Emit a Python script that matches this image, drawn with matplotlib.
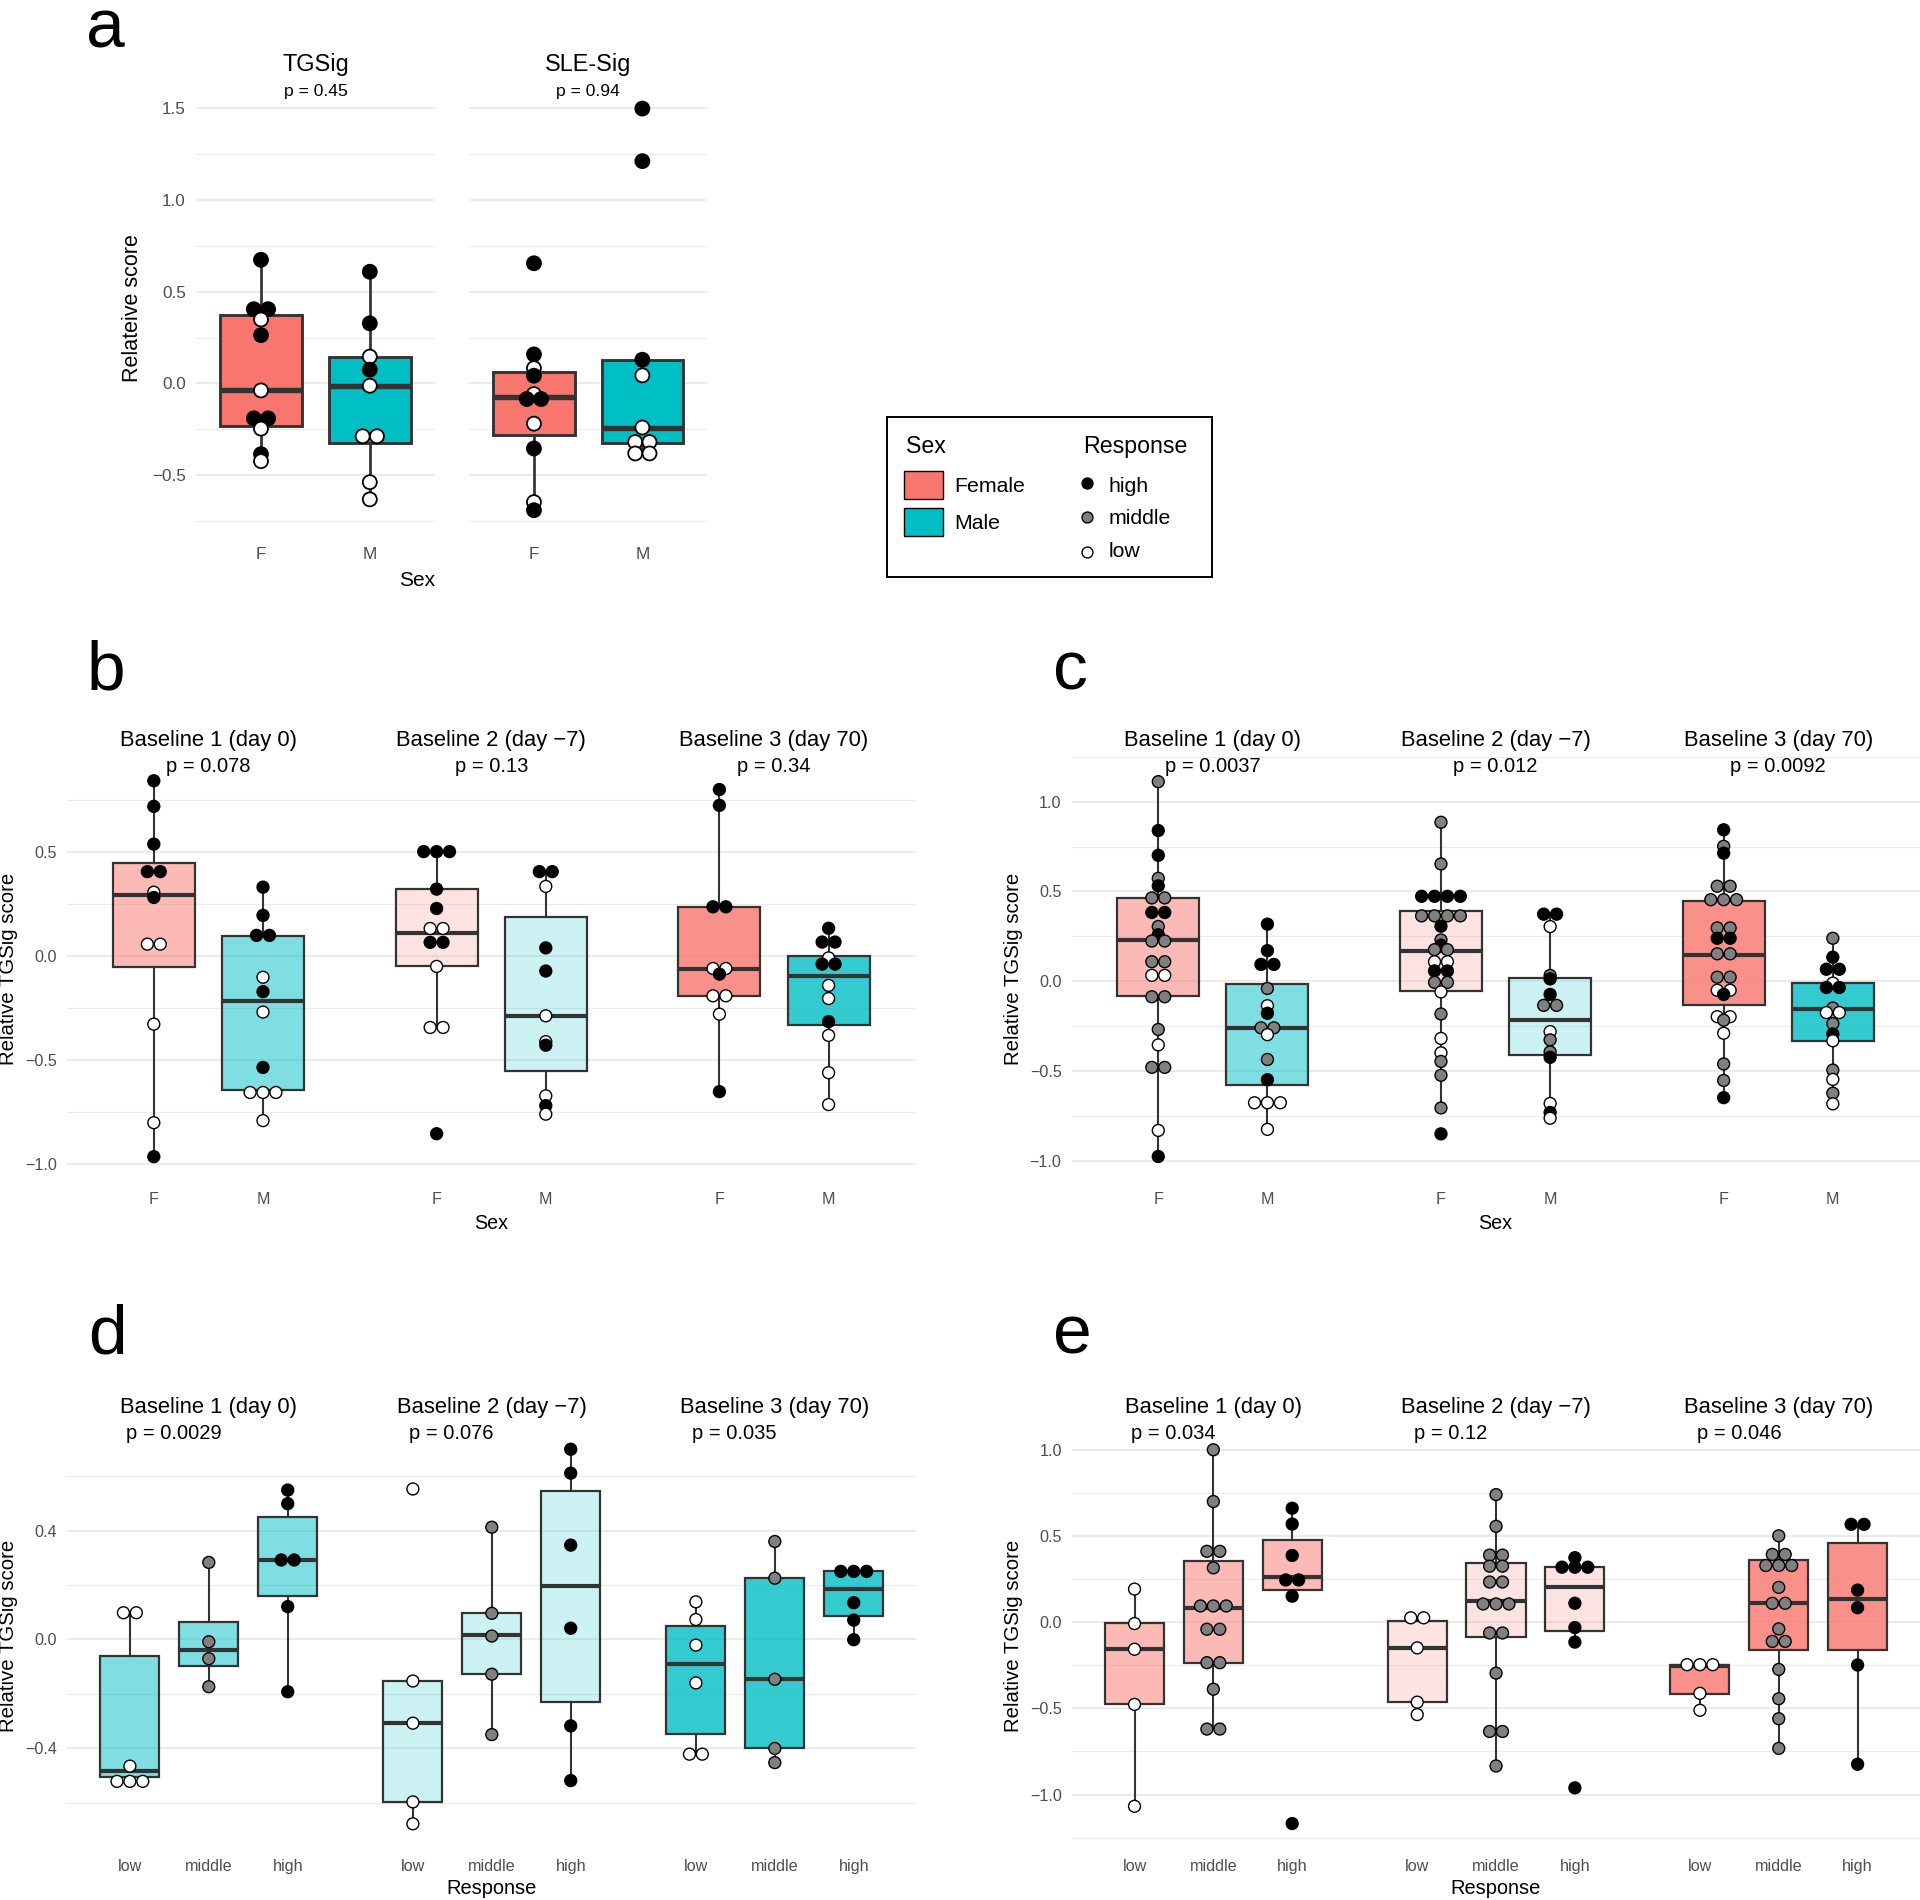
import numpy as np
import matplotlib.pyplot as plt
from matplotlib import transforms
from matplotlib.colors import to_rgba
from matplotlib.patches import Rectangle
from matplotlib.ticker import FuncFormatter

plt.rcParams["font.family"] = ["Liberation Sans", "DejaVu Sans"]

# ------------------------------
# Data
# response codes: h = high, m = middle, l = low
# ------------------------------

# panel a: signature scores by sex
A_FACETS = ["TGSig", "SLE-Sig"]
A_PVALS = ["p = 0.45", "p = 0.94"]
A_CATS = ["F", "M"]
A_TG_F = [0.673, 0.404, 0.404, 0.348, 0.263, -0.038, -0.19, -0.19, -0.246, -0.385, -0.423]
A_TG_F_R = "hhhlhlhhlhl"
A_TG_M = [0.608, 0.327, 0.146, 0.075, -0.0125, -0.2875, -0.2875, -0.5375, -0.631]
A_TG_M_R = "hhlhlllll"
A_SLE_F = [0.654, 0.158, 0.083, 0.042, -0.058, -0.085, -0.085, -0.219, -0.354, -0.646, -0.69]
A_SLE_F_R = "hhlhlhhlhlh"
A_SLE_M = [1.496, 1.21, 0.129, 0.044, -0.24, -0.319, -0.319, -0.381, -0.381]
A_SLE_M_R = "hhhllllll"
A_LO = [-0.423, -0.631, -0.69, -0.381]
A_Q1 = [-0.233, -0.323, -0.283, -0.323]
A_MED = [-0.0375, -0.0125, -0.075, -0.242]
A_Q3 = [0.373, 0.144, 0.0625, 0.127]
A_HI = [0.673, 0.608, 0.158, 0.129]

BASELINES = ["Baseline 1 (day 0)", "Baseline 2 (day \u22127)", "Baseline 3 (day 70)"]

# panel b: TGSig by sex
B_PVALS = ["p = 0.078", "p = 0.13", "p = 0.34"]
B1_F = [0.84, 0.717, 0.536, 0.404, 0.404, 0.305, 0.28, 0.056, 0.056, -0.328, -0.801, -0.964]
B1_F_R = "hhhhhlhllllh"
B1_M = [0.3295, 0.194, 0.098, 0.098, -0.103, -0.172, -0.27, -0.536, -0.656, -0.656, -0.656, -0.791]
B1_M_R = "hhhhlhlhllll"
B2_F = [0.5, 0.5, 0.5, 0.32, 0.227, 0.131, 0.131, 0.0646, 0.0646, -0.051, -0.344, -0.344, -0.854]
B2_F_R = "hhhhhllhhlllh"
B2_M = [0.404, 0.404, 0.333, 0.038, -0.073, -0.288, -0.412, -0.429, -0.672, -0.719, -0.76]
B2_M_R = "hhlhhllhlhl"
B3_F = [0.798, 0.722, 0.235, 0.235, -0.061, -0.061, -0.088, -0.192, -0.192, -0.28, -0.652]
B3_F_R = "hhhhllhlllh"
B3_M = [0.132, 0.066, 0.066, -0.01, -0.04, -0.04, -0.142, -0.205, -0.316, -0.382, -0.561, -0.714]
B3_M_R = "hhhlhhllhlll"
B_LO = [-0.964, -0.791, -0.344, -0.76, -0.652, -0.714]
B_Q1 = [-0.053, -0.642, -0.051, -0.551, -0.192, -0.331]
B_MED = [0.29, -0.2185, 0.109, -0.288, -0.063, -0.099]
B_Q3 = [0.444, 0.093, 0.32, 0.1855, 0.235, -0.002]
B_HI = [0.84, 0.3295, 0.5, 0.404, 0.798, 0.132]

# panel c: TGSig by sex, second cohort
C_PVALS = ["p = 0.0037", "p = 0.012", "p = 0.0092"]
C1_F = [1.111, 0.839, 0.701, 0.573, 0.531, 0.464, 0.464, 0.383, 0.383, 0.305, 0.259, 0.224, 0.224,
        0.109, 0.109, 0.033, 0.033, -0.086, -0.086, -0.268, -0.354, -0.479, -0.479, -0.83, -0.975]
C1_F_R = "mhhmhmmhhmhmmmmllmmmlmmlh"
C1_M = [0.318, 0.1705, 0.094, 0.094, -0.04, -0.136, -0.178, -0.259, -0.259, -0.297, -0.435, -0.548,
        -0.676, -0.676, -0.676, -0.824]
C1_M_R = "hhhhmlhmmlmhllll"
C2_F = [0.885, 0.653, 0.473, 0.473, 0.473, 0.473, 0.364, 0.364, 0.364, 0.364, 0.3065, 0.23, 0.201,
        0.176, 0.176, 0.109, 0.109, 0.0575, 0.0575, -0.006, -0.006, -0.059, -0.182, -0.318, -0.398,
        -0.446, -0.523, -0.705, -0.849]
C2_F_R = "mmhhhhmmmmhmhmmllhhmmlmllmmmh"
C2_M = [0.3736, 0.3736, 0.3046, 0.0326, 0.0134, -0.073, -0.134, -0.134, -0.28, -0.326, -0.393, -0.423,
        -0.68, -0.73, -0.762]
C2_M_R = "hhlmhhmmlmmhlhl"
C3_F = [0.843, 0.751, 0.713, 0.529, 0.529, 0.454, 0.454, 0.454, 0.297, 0.297, 0.2395, 0.2395, 0.153,
        0.153, 0.023, 0.023, -0.05, -0.05, -0.073, -0.197, -0.197, -0.2165, -0.289, -0.46, -0.552, -0.6475]
C3_F_R = "hmhmmmmmmmhhmmmmllhllmlmmh"
C3_M = [0.2395, 0.134, 0.067, 0.067, -0.01, -0.0345, -0.0345, -0.149, -0.174, -0.174, -0.2356, -0.293,
        -0.331, -0.494, -0.546, -0.6226, -0.682]
C3_M_R = "mhhhlhhmllmhlmlml"
C_LO = [-0.975, -0.824, -0.705, -0.762, -0.6475, -0.682]
C_Q1 = [-0.082, -0.575, -0.0536, -0.412, -0.134, -0.335]
C_MED = [0.228, -0.2586, 0.1705, -0.2165, 0.1437, -0.155]
C_Q3 = [0.4636, -0.0153, 0.393, 0.021, 0.448, -0.01]
C_HI = [1.111, 0.318, 0.885, 0.3736, 0.843, 0.2395]

# panel d: TGSig by response, males
RESP_CATS = ["low", "middle", "high"]
D_PVALS = ["p = 0.0029", "p = 0.076", "p = 0.035"]
D1_L = [0.098, 0.098, -0.466, -0.522, -0.522, -0.522]
D1_M = [0.283, -0.0087, -0.071, -0.174]
D1_H = [0.549, 0.499, 0.292, 0.292, 0.1205, -0.1925]
D2_L = [0.553, -0.153, -0.308, -0.5975, -0.678]
D2_M = [0.4124, 0.0957, 0.0124, -0.128, -0.35]
D2_H = [0.699, 0.611, 0.3466, 0.041, -0.318, -0.519]
D3_L = [0.138, 0.073, -0.021, -0.16, -0.422, -0.422]
D3_M = [0.36, 0.225, -0.1466, -0.401, -0.453]
D3_H = [0.25, 0.25, 0.25, 0.135, 0.0708, -0.0012]
D_LO = [-0.522, -0.174, -0.1925, -0.678, -0.35, -0.519, -0.422, -0.453, -0.0012]
D_Q1 = [-0.507, -0.098, 0.16, -0.5975, -0.128, -0.23, -0.3466, -0.401, 0.0857]
D_MED = [-0.4845, -0.0385, 0.292, -0.308, 0.015, 0.1975, -0.092, -0.1466, 0.186]
D_Q3 = [-0.062, 0.063, 0.45, -0.153, 0.0957, 0.5466, 0.0497, 0.225, 0.252]
D_HI = [0.098, 0.283, 0.549, -0.153, 0.4124, 0.699, 0.138, 0.36, 0.25]

# panel e: TGSig by response, females
E_PVALS = ["p = 0.034", "p = 0.12", "p = 0.046"]
E1_L = [0.192, -0.008, -0.157, -0.477, -1.068]
E1_M = [1.0, 0.7, 0.411, 0.411, 0.315, 0.094, 0.094, 0.094, -0.041, -0.041, -0.235, -0.235, -0.389, -0.62, -0.62]
E1_H = [0.661, 0.569, 0.387, 0.245, 0.245, 0.151, -1.168]
E2_L = [0.0254, 0.0254, -0.149, -0.464, -0.536]
E2_M = [0.74, 0.556, 0.389, 0.389, 0.325, 0.325, 0.233, 0.233, 0.1057, 0.1057, 0.1057, -0.0626, -0.0626,
        -0.2955, -0.634, -0.634, -0.834]
E2_H = [0.374, 0.319, 0.319, 0.319, 0.1096, -0.0313, -0.1155, -0.961]
E3_L = [-0.2466, -0.2466, -0.2466, -0.413, -0.511]
E3_M = [0.501, 0.393, 0.393, 0.3288, 0.3288, 0.3288, 0.2016, 0.1096, 0.1096, -0.039, -0.1115, -0.1115,
        -0.274, -0.444, -0.56, -0.732]
E3_H = [0.5675, 0.5675, 0.186, 0.084, -0.2485, -0.824]
E_LO = [-1.068, -0.62, 0.151, -0.536, -0.834, -0.1155, -0.511, -0.732, -0.824]
E_Q1 = [-0.477, -0.235, 0.188, -0.464, -0.084, -0.051, -0.415, -0.164, -0.164]
E_MED = [-0.157, 0.082, 0.26, -0.149, 0.125, 0.2016, -0.252, 0.1096, 0.133]
E_Q3 = [-0.004, 0.352, 0.4775, 0.006, 0.344, 0.319, -0.248, 0.358, 0.462]
E_HI = [0.192, 1.0, 0.661, 0.0254, 0.74, 0.374, -0.2466, 0.501, 0.5675]

# ------------------------------
# Style
# ------------------------------
W, H = 1920, 1900
FEMALE = "#F8766D"
MALE = "#00BFC4"
EDGE = "#333333"
GRID = "#EBEBEB"
TICK = "#4D4D4D"
FILL = {"h": "black", "m": "#808080", "l": "white"}
ALPHAS = [0.5, 0.2, 0.8]

fig = plt.figure(figsize=(W / 100, H / 100), dpi=100)


def fy(y):
    return 1 - y / H


def px_axes(left, top, width, height):
    return fig.add_axes([left / W, 1 - (top + height) / H, width / W, height / H])


def fmt(v, _):
    return f"{v:.1f}".replace("-", "\u2212")


def style_axes(ax, xlim, cats, ylim, major, minor, show_y, tsize, ypad, xpad):
    ax.set_xticks(range(len(cats)))
    ax.set_xticklabels(cats)
    ax.set_yticks(major)
    ax.set_yticks(minor, minor=True)
    # limits after the ticks, otherwise set_yticks widens the view
    ax.set_xlim(*xlim)
    ax.set_ylim(*ylim)
    ax.yaxis.set_major_formatter(FuncFormatter(fmt))
    ax.tick_params(which="both", length=0, colors=TICK, labelsize=tsize)
    ax.tick_params(axis="y", pad=ypad, labelleft=show_y)
    ax.tick_params(axis="x", pad=xpad)
    ax.grid(axis="y", which="major", color=GRID, lw=1.4)
    ax.grid(axis="y", which="minor", color=GRID, lw=0.8)
    ax.grid(axis="x", visible=False)
    ax.set_axisbelow(True)
    ax.patch.set_alpha(0)
    for s in ax.spines.values():
        s.set_visible(False)


def draw_dots(ax, pos, vals, resp, dot_px, gap_px, lw):
    vals = np.asarray(vals, float)
    offs = np.zeros(len(vals))
    for v in np.unique(vals):
        idx = np.flatnonzero(vals == v)
        offs[idx] = np.arange(len(idx)) - (len(idx) - 1) / 2
    x0, x1 = ax.get_xlim()
    step = gap_px * (x1 - x0) / (ax.get_position().width * W)
    size = (dot_px * 0.72 - lw) ** 2
    ax.scatter(pos + offs * step, vals, s=size, c=[FILL[r] for r in resp],
               edgecolors="black", linewidths=lw, zorder=3)


def draw_panel(axes, ncat, dots, resps, lo, q1, med, q3, hi, colors, alphas,
               dot_px=13.3, gap_px=12.9, scale=1.0):
    k = 0
    for f, ax in enumerate(axes):
        ylim = ax.get_ylim()
        for c in range(ncat):
            st = dict(whislo=lo[k], q1=q1[k], med=med[k], q3=q3[k], whishi=hi[k], fliers=[])
            ax.bxp([st], positions=[c], widths=0.75, patch_artist=True, showfliers=False,
                   showcaps=False, manage_ticks=False,
                   boxprops=dict(facecolor=to_rgba(colors[c], alphas[f]), edgecolor=EDGE,
                                 linewidth=1.6 * scale),
                   medianprops=dict(color=EDGE, linewidth=3.0 * scale),
                   whiskerprops=dict(color=EDGE, linewidth=1.5 * scale))
            draw_dots(ax, c, dots[k], resps[k], dot_px, gap_px, 1.0 * scale)
            k += 1
        ax.set_ylim(*ylim)


def facet_axes(left, top, width, height, n):
    return [px_axes(left + i * width, top, width, height) for i in range(n)]


def strip_text(ax, title, pval, y_title, y_p, tsize, psize, p_left=None):
    tr = transforms.blended_transform_factory(ax.transAxes, fig.transFigure)
    ax.text(0.5, fy(y_title), title, transform=tr, ha="center", va="baseline", fontsize=tsize)
    if p_left is None:
        ax.text(0.5, fy(y_p), pval, transform=tr, ha="center", va="baseline", fontsize=psize)
    else:
        trd = transforms.blended_transform_factory(ax.transData, fig.transFigure)
        ax.text(p_left, fy(y_p), pval, transform=trd, ha="left", va="baseline", fontsize=psize)


# ------------------------------
# Panel a
# ------------------------------
ax_a = [px_axes(195.7, 85.8, 239.4, 453.8), px_axes(468.9, 85.8, 238.5, 453.8)]
a_major = [-0.5, 0.0, 0.5, 1.0, 1.5]
a_minor = [-0.75, -0.25, 0.25, 0.75, 1.25]
for i, ax in enumerate(ax_a):
    style_axes(ax, (-0.6, 1.6), A_CATS, (-0.85, 1.62), a_major, a_minor, i == 0, 12.3, 7.1, 5.4)
    strip_text(ax, A_FACETS[i], A_PVALS[i], 70.8, 95.7, 16.9, 12.6)
draw_panel(ax_a, 2, [A_TG_F, A_TG_M, A_SLE_F, A_SLE_M], [A_TG_F_R, A_TG_M_R, A_SLE_F_R, A_SLE_M_R],
           A_LO, A_Q1, A_MED, A_Q3, A_HI, [FEMALE, MALE], [1.0, 1.0],
           dot_px=15.8, gap_px=14.3, scale=1.3)
fig.text(132.9 / W, fy(308.5), "Relateive score", rotation=90, ha="center", va="center", fontsize=15.5)
fig.text(417.5 / W, fy(585.5), "Sex", ha="center", va="baseline", fontsize=15)

# ------------------------------
# Panels b and c (by sex)
# ------------------------------
sex_major_b = [-1.0, -0.5, 0.0, 0.5]
sex_major_c = [-1.0, -0.5, 0.0, 0.5, 1.0]
sex_minor = [-1.25, -0.75, -0.25, 0.25, 0.75, 1.25]
XL2 = (-0.795, 1.795)
XL3 = (-0.793, 2.793)

ax_b = facet_axes(67, 751.6, 282.8, 433.4, 3)
for i, ax in enumerate(ax_b):
    style_axes(ax, XL2, A_CATS, (-1.1, 0.98), sex_major_b, sex_minor, i == 0, 11.6, 7.2, 4.9)
    strip_text(ax, BASELINES[i], B_PVALS[i], 745.8, 772.3, 15.8, 14.5)
draw_panel(ax_b, 2, [B1_F, B1_M, B2_F, B2_M, B3_F, B3_M],
           [B1_F_R, B1_M_R, B2_F_R, B2_M_R, B3_F_R, B3_M_R],
           B_LO, B_Q1, B_MED, B_Q3, B_HI, [FEMALE, MALE], ALPHAS)

ax_c = facet_axes(1071.5, 752, 282.7, 433, 3)
for i, ax in enumerate(ax_c):
    style_axes(ax, XL2, A_CATS, (-1.1336, 1.276), sex_major_c, sex_minor, i == 0, 11.6, 7.2, 4.9)
    strip_text(ax, BASELINES[i], C_PVALS[i], 745.8, 772.3, 15.8, 14.5)
draw_panel(ax_c, 2, [C1_F, C1_M, C2_F, C2_M, C3_F, C3_M],
           [C1_F_R, C1_M_R, C2_F_R, C2_M_R, C3_F_R, C3_M_R],
           C_LO, C_Q1, C_MED, C_Q3, C_HI, [FEMALE, MALE], ALPHAS)

# ------------------------------
# Panels d and e (by response)
# ------------------------------
resp_codes = ["l", "m", "h"]

ax_d = facet_axes(67.3, 1435.4, 283, 417.1, 3)
for i, ax in enumerate(ax_d):
    style_axes(ax, XL3, RESP_CATS, (-0.7835, 0.75), [-0.4, 0.0, 0.4], [-0.6, -0.2, 0.2, 0.6],
               i == 0, 11.6, 7.2, 5.0)
    strip_text(ax, BASELINES[i], D_PVALS[i], 1412.9, 1439.3, 15.8, 14.5, p_left=-0.05)
d_dots = [D1_L, D1_M, D1_H, D2_L, D2_M, D2_H, D3_L, D3_M, D3_H]
draw_panel(ax_d, 3, d_dots, [resp_codes[k % 3] * len(v) for k, v in enumerate(d_dots)],
           D_LO, D_Q1, D_MED, D_Q3, D_HI, [MALE] * 3, ALPHAS)

ax_e = facet_axes(1072, 1429.1, 282.7, 423.4, 3)
for i, ax in enumerate(ax_e):
    style_axes(ax, XL3, RESP_CATS, (-1.336, 1.12), sex_major_c, sex_minor, i == 0, 11.6, 7.2, 5.0)
    strip_text(ax, BASELINES[i], E_PVALS[i], 1412.9, 1439.3, 15.8, 14.5, p_left=-0.04)
e_dots = [E1_L, E1_M, E1_H, E2_L, E2_M, E2_H, E3_L, E3_M, E3_H]
draw_panel(ax_e, 3, e_dots, [resp_codes[k % 3] * len(v) for k, v in enumerate(e_dots)],
           E_LO, E_Q1, E_MED, E_Q3, E_HI, [FEMALE] * 3, ALPHAS)

# axis titles
for x in (8.8, 1013.3):
    fig.text(x / W, fy(968.6), "Relative TGSig score", rotation=90, ha="center", va="center", fontsize=14.7)
    fig.text(x / W, fy(1636.1), "Relative TGSig score", rotation=90, ha="center", va="center", fontsize=14.7)
for x in (491, 1495.5):
    fig.text(x / W, fy(1228.6), "Sex", ha="center", va="baseline", fontsize=14.2)
    fig.text(x / W, fy(1894), "Response", ha="center", va="baseline", fontsize=14.4)

# panel letters
for x, y, s in [(86, 48, "a"), (86.5, 689, "b"), (1053, 689, "c"), (88, 1354, "d"), (1053, 1354, "e")]:
    fig.text(x / W, fy(y), s, fontsize=50, va="baseline")

# ------------------------------
# Legend
# ------------------------------
lg = px_axes(887, 417, 325, 160)
lg.set_xlim(887, 1212)
lg.set_ylim(577, 417)
lg.set_xticks([])
lg.set_yticks([])
for s in lg.spines.values():
    s.set_color("black")
    s.set_linewidth(1.4)
lg.text(906, 452.7, "Sex", fontsize=16.7, va="baseline")
lg.text(1083.3, 452.7, "Response", fontsize=16.7, va="baseline")
for (label, col), y0, yb in zip([("Female", FEMALE), ("Male", MALE)], [470.7, 508.3], [491.7, 529.3]):
    lg.add_patch(Rectangle((904, y0), 39, 28, facecolor=col, edgecolor="black", lw=1.0))
    lg.text(954, yb, label, fontsize=15.3, va="baseline")
for code, label, yc, yb in [("h", "high", 483.3, 491.7), ("m", "middle", 517.3, 524), ("l", "low", 551.7, 557.3)]:
    lg.scatter([1087.3], [yc], s=62, c=FILL[code], edgecolors="black", linewidths=1.0)
    lg.text(1108.3, yb, label, fontsize=15.3, va="baseline")

fig.savefig("out.png", dpi=100)
